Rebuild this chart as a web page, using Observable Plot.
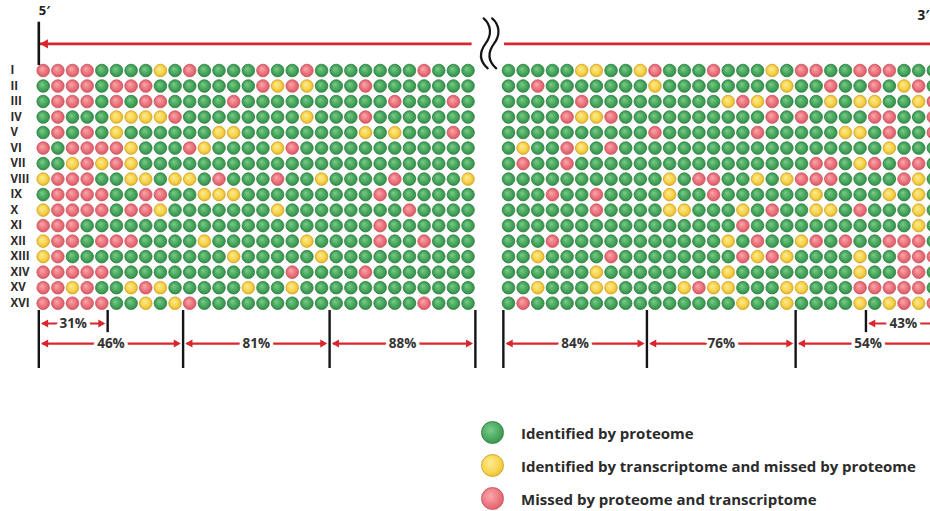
<!DOCTYPE html>
<html>
<head>
<meta charset="utf-8">
<script src="https://cdn.jsdelivr.net/npm/d3@7"></script>
<script src="https://cdn.jsdelivr.net/npm/@observablehq/plot@0.6"></script>
<style>
  body { margin: 0; background: #fff; font-family: "Open Sans", sans-serif; }
  #chart svg { display: block; }
  .legend { margin-left: 481px; padding-top: 16px; }
  .item { display: flex; align-items: center; height: 33px; }
  .sw { width: 23px; height: 23px; border-radius: 50%; box-sizing: border-box; margin-right: 17px; flex: none; }
  .lab { font-weight: 700; font-size: 15px; color: #2b2b2b; white-space: nowrap; }
</style>
</head>
<body>
<div id="chart"></div>
<div class="legend" id="legend"></div>
<script>
// ---------------- data ----------------
const rowLabels = ["I","II","III","IV","V","VI","VII","VIII","IX","X","XI","XII","XIII","XIV","XV","XVI"];

// G = identified by proteome, Y = transcriptome only, R = missed by both
const leftRows = [
  "RRRRGGGGYGRGGGGRGGRGGGGGGGRGGG",
  "GRRRGRRRGGGGGGGRYRYGGGRGGGGGGG",
  "GRRRGRGRRGGGGRGGGGGGGGGGRGGGRG",
  "GRGGGYYYYRGGGGGGGGYGGGRGGGGGGG",
  "GRGRGYGGGGGGYYGGGGGGGGYGYGGGRG",
  "RGRRRRYGGGRYGGGGYRGGGGGGGGGGGG",
  "GGYRYRYGGGGGGGGGGGGGGGGGGGGGGG",
  "YRRRGGYYGYYGRGGGRGGYGGGGRGGGGY",
  "GRRRRGGRRGGYYYGGGGGGGGGRGGGGGG",
  "YRRRRGRRYGGGGGGGYGGGGGGGGRGGGG",
  "RRRGGGGGGGGGGGGGGGGGGGGRGGGGGG",
  "YRRGRRRGGGGYGGGGGGYGGGGRGGRGGG",
  "YRGGGGGGGGGGGYGGGGGYGGGGGGGGGG",
  "RRRRRGGGGGGGGGGGGRGGGGRGGGGGGG",
  "RRYRGGYRYGGGGGYGGYGGGGGGGGGGGG",
  "RRRRRGGYGYRGGGGGGGGGGGGGGGRGGGRR".slice(0, 30)
];
const rightRows = [
  "GGGGGYYGGYRGGGRGGGYGRRGGRRRGGG",
  "GGRGGGGGGGYGGGGGGGGYGGRGGRGYRG",
  "GGGGGRGGGGGGGGGYRYRGGGYGYYGGYR",
  "GGGGRYYRGGGGGGGGGGRGRGGGGRRGGR",
  "GGGGGGGGGGRGGGGGGRGGGGGYYGRGGR",
  "GYGGRYGRGGGGGGGGGGGGGGGGGGYGGG",
  "GRGGRGGGGGGGGGGGGGGGGRRGYRGRRG",
  "GGGGGGGGGGGYGRRGGYGYRRRGGGGRYG",
  "GGGRGGRGGGGYGGRGGGGGGYGGGGYGYG",
  "GGGGGGRGGGGYYGGGYGRGGYYGRGGGYG",
  "GGGGGGGGGGGGGGGGRGGGGGGGGGGGYG",
  "GGGRGGGGGGGGGGGYGRGGYRGRGGRRRG",
  "GGYGGGGRGGGGGGGGRYRYGGGGYGGRRR",
  "GGGGGGYGGGGGGGGYGGGGGGGGYGGRRG",
  "GGYGGGYYGGGGYRYYGGGYYGGGRRRRRG",
  "GRGGGGGGGGGGGGGGYGGYGGGGYGYRYR"
];

const statusKeys = ["G", "Y", "R"];
const statusLabels = [
  "Identified by proteome",
  "Identified by transcriptome and missed by proteome",
  "Missed by proteome and transcriptome"
];

// coverage brackets (column units of each block)
const leftSegments = [
  {from: -0.3, to: 4.4, label: "31%", level: 0},
  {from: -0.3, to: 9.55, label: "46%", level: 1},
  {from: 9.55, to: 19.55, label: "81%", level: 1},
  {from: 19.55, to: 29.5, label: "88%", level: 1}
];
const rightSegments = [
  {from: -0.35, to: 9.45, label: "84%", level: 1},
  {from: 9.45, to: 19.6, label: "76%", level: 1},
  {from: 19.6, to: 29.5, label: "54%", level: 1},
  {from: 24.4, to: 29.5, label: "43%", level: 0}
];
const endLabels = ["5\u2032", "3\u2032"];

// ---------------- layout constants ----------------
const rightOffset = 31.76;          // column index where the right block starts
const RED = "#d8262c";
const INK = "#141414";
const strandY = -1.72;              // row units
const levelY = [16.31, 17.6];
const bracketTop = 15.47, bracketBottom = 19.21, shortBottom = 16.9;

const palette = {
  G: {id: "gG", stops: ["#7ccb8b", "#47a75c", "#2e8745"], stroke: "#2f7f43"},
  Y: {id: "gY", stops: ["#fdea94", "#f6d44c", "#ddad27"], stroke: "#d3a52a"},
  R: {id: "gR", stops: ["#f8a9ae", "#eb737c", "#d3535f"], stroke: "#c9545d"}
};

// ---------------- derived tables ----------------
const cells = [];
leftRows.forEach((s, r) => [...s].forEach((c, i) => cells.push({row: r, col: i, status: c})));
rightRows.forEach((s, r) => [...s].forEach((c, k) => cells.push({row: r, col: rightOffset + k, status: c})));

const segs = [
  ...leftSegments.map(d => ({...d, x0: d.from, x1: d.to})),
  ...rightSegments.map(d => ({...d, x0: rightOffset + d.from, x1: rightOffset + d.to}))
].map(d => ({...d, y: levelY[d.level], mid: (d.x0 + d.x1) / 2}));

const boundMap = new Map();
for (const s of segs) for (const v of [s.x0, s.x1]) {
  const key = v.toFixed(3);
  const prev = boundMap.get(key);
  boundMap.set(key, {at: v, long: (prev && prev.long) || s.level === 1});
}
const bounds = [...boundMap.values()];

const breakAt = (29 + rightOffset) / 2 + 0.2;

const breakMark = (index, scales) => {
  const g = d3.create("svg:g")
    .attr("fill", "none").attr("stroke", INK)
    .attr("stroke-width", 2.2).attr("stroke-linecap", "round");
  const cx = scales.x(breakAt), cy = scales.y(strandY);
  for (const off of [-5, 3.5]) {
    g.append("path").attr("d",
      `M${cx + off - 2},${cy - 25} c8,7 8,17 2,25 s-7,17 2,25`);
  }
  return g.node();
};

const chart = Plot.plot({
  width: 930,
  height: 400,
  margin: 0,
  x: {domain: [0, 60], range: [42.7, 921.7], axis: null},
  y: {domain: [0, 15], range: [70, 302.7], axis: null},
  style: {fontFamily: "'Open Sans', sans-serif", background: "white", overflow: "visible"},
  marks: [
    // strand line and 5' tick
    Plot.ruleY([strandY], {x1: -0.3, x2: 29.28, stroke: RED, strokeWidth: 2.8}),
    Plot.ruleY([strandY], {x1: rightOffset - 0.27, x2: 62, stroke: RED, strokeWidth: 2.8}),
    Plot.dot([strandY], {x: -0.3, y: d => d, symbol: "triangle", r: 3.4, rotate: -90, fill: RED, dx: 6.5}),
    Plot.ruleX([-0.3], {y1: -3.11, y2: -0.32, stroke: INK, strokeWidth: 2.6}),
    breakMark,
    Plot.text([endLabels[0]], {x: -0.3, y: -3.85, text: d => d, textAnchor: "start", fontWeight: 700, fontSize: 13, fill: "#222"}),
    Plot.text([endLabels[1]], {x: 59.68, y: -3.55, text: d => d, textAnchor: "start", fontWeight: 700, fontSize: 13.5, fill: "#222"}),

    // row labels
    Plot.text(rowLabels, {y: (d, i) => i, text: d => d, frameAnchor: "left", dx: 10, textAnchor: "start",
      fontWeight: 700, fontSize: 11.5, fill: "#2a2a2a"}),

    // dots
    ...statusKeys.map(k => Plot.dot(cells.filter(d => d.status === k), {
      x: "col", y: "row", r: 6.3,
      fill: `url(#${palette[k].id})`, stroke: palette[k].stroke, strokeWidth: 0.8
    })),

    // bracket boundaries
    Plot.ruleX(bounds.filter(d => d.long), {x: "at", y1: bracketTop, y2: bracketBottom, stroke: INK, strokeWidth: 2.4}),
    Plot.ruleX(bounds.filter(d => !d.long), {x: "at", y1: bracketTop, y2: shortBottom, stroke: INK, strokeWidth: 2.4}),

    // bracket arrows
    Plot.ruleY(segs, {y: "y", x1: "x0", x2: "x1", stroke: RED, strokeWidth: 2.2, insetLeft: 4, insetRight: 4}),
    Plot.dot(segs, {x: "x0", y: "y", symbol: "triangle", r: 3, rotate: -90, fill: RED, dx: 7}),
    Plot.dot(segs, {x: "x1", y: "y", symbol: "triangle", r: 3, rotate: 90, fill: RED, dx: -7}),
    Plot.text(segs, {x: "mid", y: "y", text: "label", fontWeight: 700, fontSize: 13.5, fill: "#333",
      stroke: "white", strokeWidth: 7, paintOrder: "stroke"})
  ]
});

// radial gradients for the 3D-looking dots
const defs = d3.select(chart).insert("defs", ":first-child");
for (const k of statusKeys) {
  const p = palette[k];
  const g = defs.append("radialGradient").attr("id", p.id)
    .attr("cx", "50%").attr("cy", "50%").attr("r", "55%").attr("fx", "38%").attr("fy", "35%");
  g.append("stop").attr("offset", "0%").attr("stop-color", p.stops[0]);
  g.append("stop").attr("offset", "60%").attr("stop-color", p.stops[1]);
  g.append("stop").attr("offset", "100%").attr("stop-color", p.stops[2]);
}
document.getElementById("chart").append(chart);

// legend
const legend = d3.select("#legend");
statusKeys.forEach((k, i) => {
  const p = palette[k];
  const item = legend.append("div").attr("class", "item");
  item.append("div").attr("class", "sw")
    .style("background", `radial-gradient(circle at 40% 38%, ${p.stops[0]} 0%, ${p.stops[1]} 55%, ${p.stops[2]} 100%)`)
    .style("border", `1.2px solid ${p.stroke}`);
  item.append("div").attr("class", "lab").text(statusLabels[i]);
});
</script>
</body>
</html>
